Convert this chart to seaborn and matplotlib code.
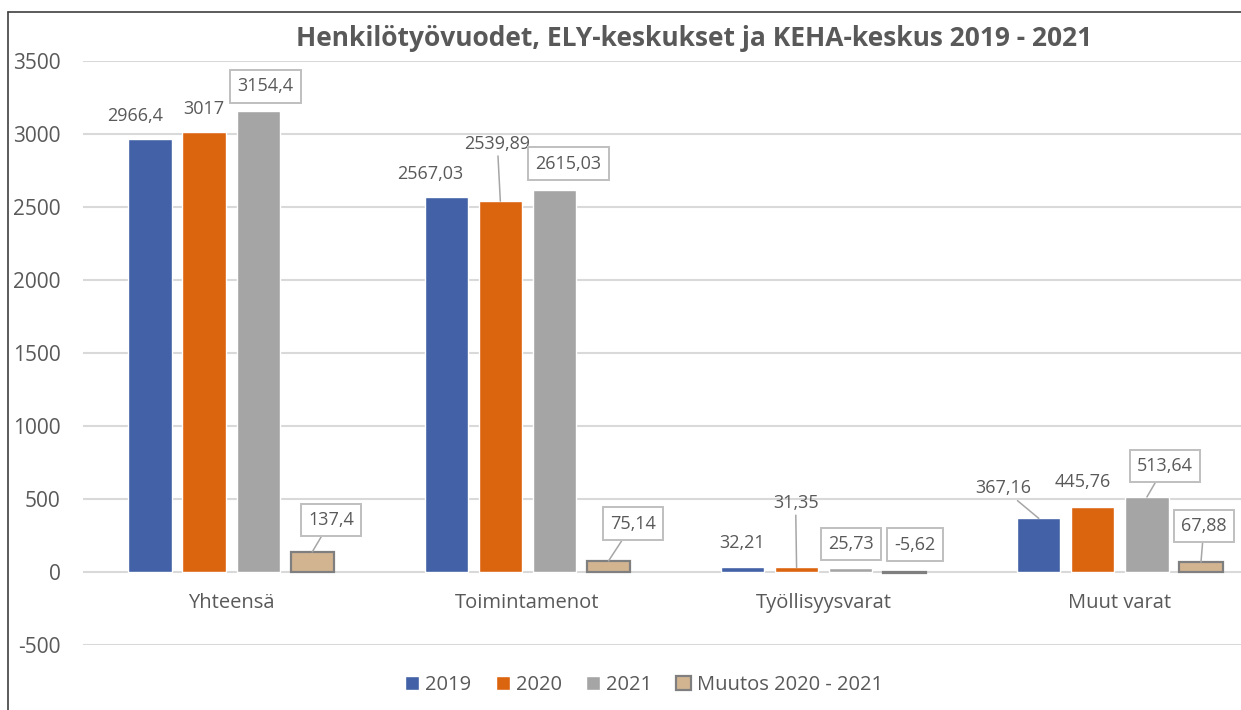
import matplotlib
matplotlib.use("Agg")
import matplotlib.pyplot as plt
from matplotlib.lines import Line2D
import seaborn as sns
import pandas as pd

# ---- data ----
categories = ["Yhteensä", "Toimintamenot", "Työllisyysvarat", "Muut varat"]
series_names = ["2019", "2020", "2021", "Muutos 2020 - 2021"]
v2019 = [2966.4, 2567.03, 32.21, 367.16]
v2020 = [3017, 2539.89, 31.35, 445.76]
v2021 = [3154.4, 2615.03, 25.73, 513.64]
vchange = [137.4, 75.14, -5.62, 67.88]
y_ticks = [-500, 0, 500, 1000, 1500, 2000, 2500, 3000, 3500]
title = "Henkilötyövuodet, ELY-keskukset ja KEHA-keskus 2019 - 2021"

series_values = [v2019, v2020, v2021, vchange]
rows = []
for name, vals in zip(series_names, series_values):
    for cat, v in zip(categories, vals):
        rows.append({"cat": cat, "series": name, "value": v})
df = pd.DataFrame(rows)

# ---- style ----
colors = ["#4361A6", "#DB640F", "#A5A5A5", "#D3B491"]
txt = "#595959"
sns.set_theme(style="white")
plt.rcParams["font.family"] = ["Open Sans", "DejaVu Sans"]
plt.rcParams["axes.unicode_minus"] = False

fig = plt.figure(figsize=(12.41, 7.10), dpi=100)
ax = fig.add_axes([83 / 1241, 65 / 710, 1185 / 1241, 584 / 710])

sns.barplot(data=df, x="cat", y="value", hue="series", order=categories,
            hue_order=series_names, palette=colors, width=0.73, gap=0.2,
            saturation=1, legend=False, ax=ax, zorder=3)

# tan bars have a grey outline
for p in ax.containers[3].patches:
    p.set_edgecolor("#7F7F7F")
    p.set_linewidth(1.6)

ax.set_xlim(-0.5, 3.5)
ax.set_ylim(-500, 3500)
ax.set_yticks(y_ticks)
ax.yaxis.grid(True, color="#D9D9D9", linewidth=1.5, zorder=0)
ax.xaxis.grid(False)
for s in ax.spines.values():
    s.set_visible(False)
ax.tick_params(axis="y", length=0, pad=16, labelsize=15, labelcolor=txt)
ax.set_xticks([])
ax.set_xlabel("")
ax.set_ylabel("")

# category labels below the zero line
for i, cat in enumerate(categories):
    ax.annotate(cat, xy=(i, 0), xytext=(0, -31 * 0.72), textcoords="offset points",
                ha="center", va="center", fontsize=14.5, color=txt)

# data labels: (dx, dy) offsets in pixels, boxed?, leader line?
label_layout = [
    [(-15, 23, False, False), (-16, 23.5, False, False), (0, 24.5, False, False), (-36, 30, False, True)],
    [(0, 23, False, False), (-3, 57.5, False, True), (-1, 64.5, False, True), (-10, 25, False, False)],
    [(7.5, 25, True, False), (14, 26.5, True, False), (0, 24.5, True, False), (18, 31, True, True)],
    [(19, 32, True, True), (24.5, 37.5, True, True), (10, 27.5, True, False), (3, 36, True, True)],
]
for si, cont in enumerate(ax.containers):
    vals = series_values[si]
    for ci, p in enumerate(cont.patches):
        v = vals[ci]
        xc = p.get_x() + p.get_width() / 2
        ytop = max(v, 0)
        dx, dy, boxed, leader = label_layout[si][ci]
        label = f"{v:g}".replace(".", ",")
        kw = {}
        if boxed:
            kw["bbox"] = dict(boxstyle="square,pad=0.4", fc="white", ec="#BFBFBF", lw=1.4)
        if leader:
            kw["arrowprops"] = dict(arrowstyle="-", color="#A6A6A6", lw=1.1,
                                    shrinkA=0, shrinkB=0)
        ax.annotate(label, xy=(xc, ytop), xytext=(dx * 0.72, dy * 0.72),
                    textcoords="offset points", ha="center", va="center",
                    fontsize=13, color=txt, zorder=5 if boxed else 4, **kw)

# title
fig.text(694 / 1241, 1 - 38 / 710, title, ha="center", va="center",
         fontsize=19, fontweight="bold", color=txt)

# legend
leg = fig.legend(ax.containers, series_names, loc="center",
                 bbox_to_anchor=(644 / 1241, 1 - 685 / 710), ncol=4, frameon=False,
                 fontsize=14.5, handlelength=0.7, handleheight=0.7,
                 handletextpad=0.3, columnspacing=1.2)
for t in leg.get_texts():
    t.set_color(txt)

# chart frame (left and top edges)
fig.add_artist(Line2D([8 / 1241, 8 / 1241], [0, 1 - 12 / 710], color="#404040", lw=1.2,
                      transform=fig.transFigure))
fig.add_artist(Line2D([8 / 1241, 1], [1 - 12 / 710, 1 - 12 / 710], color="#404040", lw=1.2,
                      transform=fig.transFigure))

fig.savefig("out.png", dpi=100)
